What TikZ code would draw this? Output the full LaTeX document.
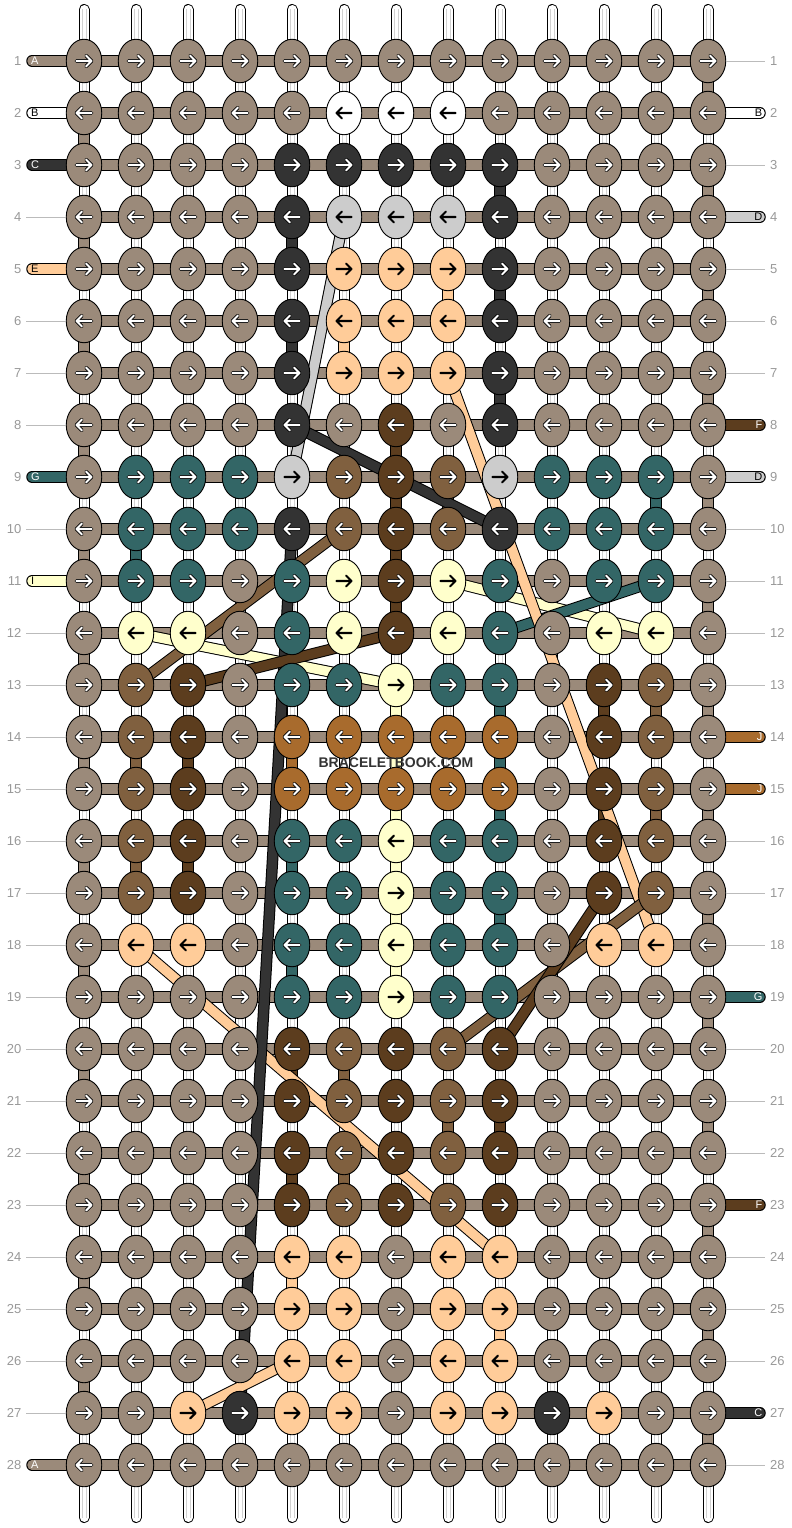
\documentclass[tikz,border=0pt]{standalone}
\usepackage{fontspec}
\setmainfont{Liberation Sans}
\usetikzlibrary{shapes.geometric}
\definecolor{kG}{HTML}{9B8A7A}
\definecolor{kW}{HTML}{FFFFFF}
\definecolor{kD}{HTML}{333333}
\definecolor{kL}{HTML}{CCCCCC}
\definecolor{kP}{HTML}{FFCC99}
\definecolor{kB}{HTML}{5C3D1E}
\definecolor{kM}{HTML}{80603F}
\definecolor{kT}{HTML}{336666}
\definecolor{kY}{HTML}{FFFFCC}
\definecolor{kO}{HTML}{A86B2D}
% arrow colours
\colorlet{aG}{white}\colorlet{aW}{black}\colorlet{aD}{white}\colorlet{aL}{black}
\colorlet{aP}{black}\colorlet{aB}{white}\colorlet{aM}{white}\colorlet{aT}{white}
\colorlet{aY}{black}\colorlet{aO}{white}
% arrow outline colours (invisible on light knots)
\colorlet{oG}{black}\colorlet{oW}{kW}\colorlet{oD}{black}\colorlet{oL}{kL}
\colorlet{oP}{kP}\colorlet{oB}{black}\colorlet{oM}{black}\colorlet{oT}{black}
\colorlet{oY}{kY}\colorlet{oO}{black}
\definecolor{numgray}{HTML}{999999}
\definecolor{linegray}{HTML}{BBBBBB}
\tikzset{
  connout/.style={line width=11.5pt, draw=black},
  connin/.style={line width=9.5pt},
  knot/.style={ellipse, draw=black, line width=0.9pt, minimum width=35.5pt, minimum height=43.5pt, inner sep=0pt},
  numtxt/.style={font=\fontsize{13}{13}\selectfont, text=numgray, inner sep=0pt},
  tagtxt/.style={font=\fontsize{11}{11}\selectfont, inner sep=0pt},
  guide/.style={draw=linegray, line width=0.8pt},
  arrowout/.style={line width=3.6pt, line cap=round, line join=round},
  arrowin/.style={line width=2.1pt, line cap=round, line join=round},
}
\newcommand\conn[3]{\draw[connout] (p-#1) -- (p-#2); \draw[connin,draw=#3] (p-#1) -- (p-#2);}
\begin{document}
\begin{tikzpicture}[x=1pt,y=-1pt]
\useasboundingbox (0,0) rectangle (792,1528);
\fill[white] (0,0) rectangle (792,1528);
% grid coordinates
\foreach \r in {1,...,28}{
  \foreach \c in {1,...,13}{
    \coordinate (p-\r-\c) at ({84+52*(\c-1)},{61+52*(\r-1)});
  }
}
% vertical white strands
\foreach \c in {1,...,13}{
  \coordinate (top-\c) at ({84+52*(\c-1)},9.5);
  \coordinate (bot-\c) at ({84+52*(\c-1)},1517.5);
  \draw[line width=11pt, line cap=round] (top-\c) -- (bot-\c);
  \draw[line width=9pt, white, line cap=round] (top-\c) -- (bot-\c);
  \draw[line width=0.6pt, black!18] ([xshift=-1.8pt]top-\c) -- ([xshift=-1.8pt]bot-\c);
  \draw[line width=0.6pt, black!18] ([xshift=1.8pt]top-\c) -- ([xshift=1.8pt]bot-\c);
}
% horizontal background strands
\foreach \r in {1,...,28}{
  \draw[connout] (p-\r-1) -- (p-\r-13);
  \draw[connin, draw=kG] (p-\r-1) -- (p-\r-13);
}
% edge turns of string A
\foreach \r [evaluate=\r as \s using int(\r+1)] in {1,3,...,27}{ \conn{\r-13}{\s-13}{kG} }
\foreach \r [evaluate=\r as \s using int(\r+1)] in {2,4,...,26}{ \conn{\r-1}{\s-1}{kG} }
% left tags
\foreach \r/\cl in {1/kG,2/kW,3/kD,5/kP,9/kT,11/kY,28/kG}{
  \coordinate (tl-\r) at (32,{61+52*(\r-1)});
  \draw[connout, line cap=round] (tl-\r) -- (p-\r-1);
  \draw[connin, draw=\cl, line cap=round] (tl-\r) -- (p-\r-1);
}
% right tags
\foreach \r/\cl in {2/kW,4/kL,8/kB,9/kL,14/kO,15/kO,19/kT,23/kB,27/kD}{
  \coordinate (tr-\r) at (760,{61+52*(\r-1)});
  \draw[connout, line cap=round] (p-\r-13) -- (tr-\r);
  \draw[connin, draw=\cl, line cap=round] (p-\r-13) -- (tr-\r);
}
% vertical carries of coloured strings
\foreach \a/\b/\cl in {3-9/4-9/kD, 4-5/5-5/kD, 5-9/6-9/kD, 6-5/7-5/kD, 7-9/8-9/kD,
  5-8/6-8/kP, 6-6/7-6/kP, 24-5/25-5/kP, 25-9/26-9/kP,
  8-7/9-7/kB, 9-7/10-7/kB, 10-7/11-7/kB, 11-7/12-7/kB, 13-11/14-11/kB, 14-3/15-3/kB,
  15-11/16-11/kB, 16-3/17-3/kB, 20-5/21-5/kB, 21-9/22-9/kB, 22-5/23-5/kB,
  9-12/10-12/kT, 10-2/11-2/kT, 12-5/13-5/kT, 13-9/16-9/kT, 16-5/17-5/kT, 17-9/18-9/kT, 18-5/19-5/kT,
  13-7/16-7/kY, 16-7/17-7/kY, 17-7/18-7/kY, 18-7/19-7/kY,
  9-8/10-8/kM, 13-12/14-12/kM, 14-2/15-2/kM, 15-12/16-12/kM, 16-2/17-2/kM, 20-6/21-6/kM, 21-8/22-8/kM, 22-6/23-6/kM,
  14-5/15-5/kO}{
  \conn{\a}{\b}{\cl}
}
% diagonal carries
\foreach \a/\b/\cl in {4-6/9-5/kL, 8-5/10-9/kD, 18-2/24-9/kP, 10-5/27-4/kD, 10-6/13-2/kM,
  11-8/12-12/kY, 12-2/13-7/kY, 12-7/13-3/kB, 11-12/12-9/kT, 7-8/18-12/kP,
  17-12/20-8/kM, 17-11/20-9/kB, 26-5/27-3/kP}{
  \conn{\a}{\b}{\cl}
}
% knots
\foreach \r/\row in {
 1/{G,G,G,G,G,G,G,G,G,G,G,G,G},
 2/{G,G,G,G,G,W,W,W,G,G,G,G,G},
 3/{G,G,G,G,D,D,D,D,D,G,G,G,G},
 4/{G,G,G,G,D,L,L,L,D,G,G,G,G},
 5/{G,G,G,G,D,P,P,P,D,G,G,G,G},
 6/{G,G,G,G,D,P,P,P,D,G,G,G,G},
 7/{G,G,G,G,D,P,P,P,D,G,G,G,G},
 8/{G,G,G,G,D,G,B,G,D,G,G,G,G},
 9/{G,T,T,T,L,M,B,M,L,T,T,T,G},
 10/{G,T,T,T,D,M,B,M,D,T,T,T,G},
 11/{G,T,T,G,T,Y,B,Y,T,G,T,T,G},
 12/{G,Y,Y,G,T,Y,B,Y,T,G,Y,Y,G},
 13/{G,M,B,G,T,T,Y,T,T,G,B,M,G},
 14/{G,M,B,G,O,O,O,O,O,G,B,M,G},
 15/{G,M,B,G,O,O,O,O,O,G,B,M,G},
 16/{G,M,B,G,T,T,Y,T,T,G,B,M,G},
 17/{G,M,B,G,T,T,Y,T,T,G,B,M,G},
 18/{G,P,P,G,T,T,Y,T,T,G,P,P,G},
 19/{G,G,G,G,T,T,Y,T,T,G,G,G,G},
 20/{G,G,G,G,B,M,B,M,B,G,G,G,G},
 21/{G,G,G,G,B,M,B,M,B,G,G,G,G},
 22/{G,G,G,G,B,M,B,M,B,G,G,G,G},
 23/{G,G,G,G,B,M,B,M,B,G,G,G,G},
 24/{G,G,G,G,P,P,G,P,P,G,G,G,G},
 25/{G,G,G,G,P,P,G,P,P,G,G,G,G},
 26/{G,G,G,G,P,P,G,P,P,G,G,G,G},
 27/{G,G,P,D,P,P,G,P,P,D,P,G,G},
 28/{G,G,G,G,G,G,G,G,G,G,G,G,G}}{
  \ifodd\r \def\sg{1}\else\def\sg{-1}\fi
  \foreach \k [count=\c] in \row {
    \node[knot, fill=k\k] (k-\r-\c) at (p-\r-\c) {};
    \begin{scope}[shift={(p-\r-\c)}, xscale=\sg]
      \draw[arrowout, color=o\k] (-7.5,0) -- (7.5,0) (2.2,-5.3) -- (7.5,0) -- (2.2,5.3);
      \draw[arrowin, color=a\k] (-7.5,0) -- (7.5,0) (2.2,-5.3) -- (7.5,0) -- (2.2,5.3);
    \end{scope}
  }
}
% tag letters
\foreach \r/\tg/\tc in {1/A/white,2/B/black,3/C/white,5/E/black,9/G/white,11/I/black,28/A/white}{
  \node[tagtxt, text=\tc, anchor=west] (tlt-\r) at (31,{61+52*(\r-1)}) {\tg};
}
\foreach \r/\tg/\tc in {2/B/black,4/D/black,8/F/white,9/D/black,14/J/white,15/J/white,19/G/white,23/F/white,27/C/white}{
  \node[tagtxt, text=\tc, anchor=east] (trt-\r) at (762.5,{61+52*(\r-1)}) {\tg};
}
% row numbers
\foreach \r in {1,...,28}{
  \node[numtxt, anchor=east] (nl-\r) at (21.5,{61+52*(\r-1)}) {\r};
  \node[numtxt, anchor=west] (nr-\r) at (770,{61+52*(\r-1)}) {\r};
}
% guide lines
\foreach \r in {4,6,7,8,10,12,13,14,15,16,17,18,19,20,21,22,23,24,25,26,27}{
  \coordinate (gl-\r) at (26,{61+52*(\r-1)});
  \draw[guide] (gl-\r) -- (k-\r-1.west);
}
\foreach \r in {1,3,5,6,7,10,11,12,13,16,17,18,20,21,22,24,25,26,28}{
  \coordinate (gr-\r) at (765,{61+52*(\r-1)});
  \draw[guide] (k-\r-13.east) -- (gr-\r);
}
% watermark
\node[font=\bfseries\fontsize{14}{14}\selectfont, text=kD, inner sep=0pt] (wm) at (396,763) {BRACELETBOOK.COM};
\end{tikzpicture}
\end{document}
